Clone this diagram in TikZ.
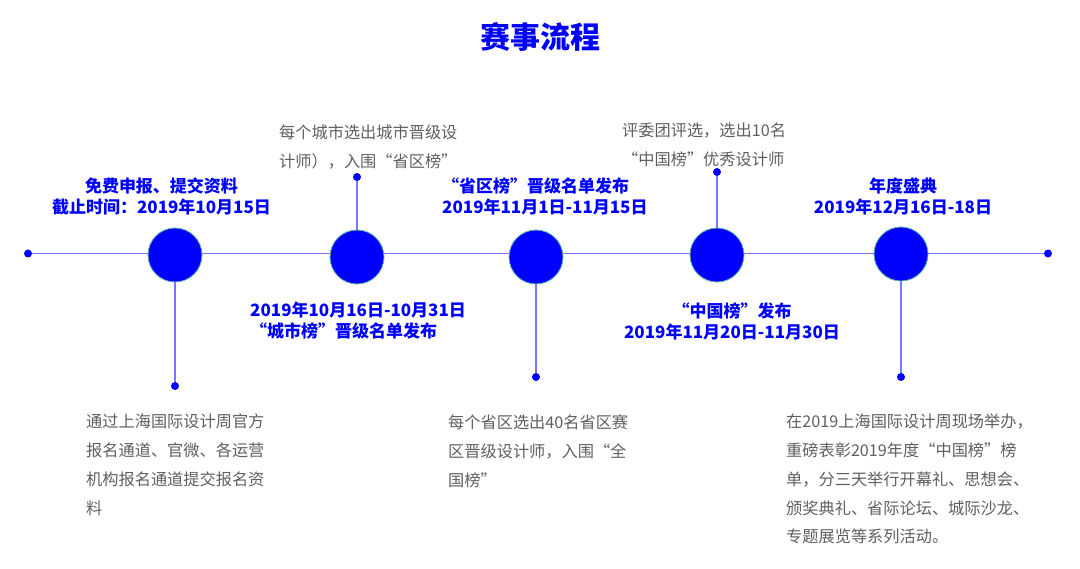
\documentclass[tikz,border=0pt]{standalone}
\usepackage{fontspec}
\setmainfont{Noto Sans CJK SC}
\usetikzlibrary{backgrounds}
\definecolor{mainblue}{HTML}{0000FF}
\definecolor{linecol}{HTML}{7777FF}
\definecolor{rimcol}{HTML}{5FB3A8}
\definecolor{txtgray}{HTML}{5F5F5F}
\begin{document}
\begin{tikzpicture}[x=1pt,y=-1pt,
  bigdot/.style={circle,fill=mainblue,draw=rimcol,line width=0.8pt,minimum size=54pt,inner sep=0pt},
  smalldot/.style={circle,fill=mainblue,inner sep=0pt,minimum size=8pt},
  link/.style={draw=linecol,line width=1.8pt},
  bluelab/.style={text=mainblue,font=\fontsize{17}{20.5}\selectfont\bfseries,inner sep=0pt},
  graytxt/.style={text=txtgray,font=\fontsize{16.2}{28.7}\selectfont,inner sep=0pt,align=left,anchor=north west},
  titletxt/.style={text=mainblue,font=\fontsize{30}{36}\selectfont\bfseries,inner sep=0pt},
]
\useasboundingbox (0,0) rectangle (1080,569);

\node[titletxt] (title) at (540,37) {赛事流程};

% timeline ends
\node[smalldot] (e1) at (28,253.5) {};
\node[smalldot] (e2) at (1048,253.5) {};

% big circles
\node[bigdot] (c1) at (175,255) {};
\node[bigdot] (c2) at (357,257) {};
\node[bigdot] (c3) at (536,257) {};
\node[bigdot] (c4) at (717,255) {};
\node[bigdot] (c5) at (901,254) {};

% stem dots
\node[smalldot] (d1) at (175,386) {};
\node[smalldot] (d2) at (357,177) {};
\node[smalldot] (d3) at (536,377) {};
\node[smalldot] (d4) at (717,172) {};
\node[smalldot] (d5) at (901,377) {};

\begin{pgfonlayer}{background}
\draw[link] (e1) -- (e2);
\draw[link] (c1) -- (d1);
\draw[link] (c2) -- (d2);
\draw[link] (c3) -- (d3);
\draw[link] (c4) -- (d4);
\draw[link] (c5) -- (d5);
\end{pgfonlayer}

% blue labels
\node[bluelab,align=center,anchor=north] (l1) at (161.5,178) {免费申报、提交资料\\截止时间：2019年10月15日};
\node[bluelab,align=left,anchor=north west] (l2) at (250,302) {2019年10月16日-10月31日\\“城市榜”晋级名单发布};
\node[bluelab,align=left,anchor=north west] (l3) at (442,178) {“省区榜”晋级名单发布\\2019年11月1日-11月15日};
\node[bluelab,align=center,anchor=north] (l4) at (732,303) {“中国榜”发布\\2019年11月20日-11月30日};
\node[bluelab,align=center,anchor=north] (l5) at (903,178) {年度盛典\\2019年12月16日-18日};

% gray descriptions
\node[graytxt] (t1) at (86,414) {通过上海国际设计周官方\\报名通道、官微、各运营\\机构报名通道提交报名资\\料};
\node[graytxt] (t2) at (279,125) {每个城市选出城市晋级设\\计师），入围“省区榜”};
\node[graytxt] (t3) at (448,415) {每个省区选出40名省区赛\\区晋级设计师，入围“全\\国榜”};
\node[graytxt] (t4) at (622,123) {评委团评选，选出10名\\“中国榜”优秀设计师};
\node[graytxt] (t5) at (786,414) {在2019上海国际设计周现场举办，\\重磅表彰2019年度“中国榜”榜\\单，分三天举行开幕礼、思想会、\\颁奖典礼、省际论坛、城际沙龙、\\专题展览等系列活动。};
\end{tikzpicture}
\end{document}
